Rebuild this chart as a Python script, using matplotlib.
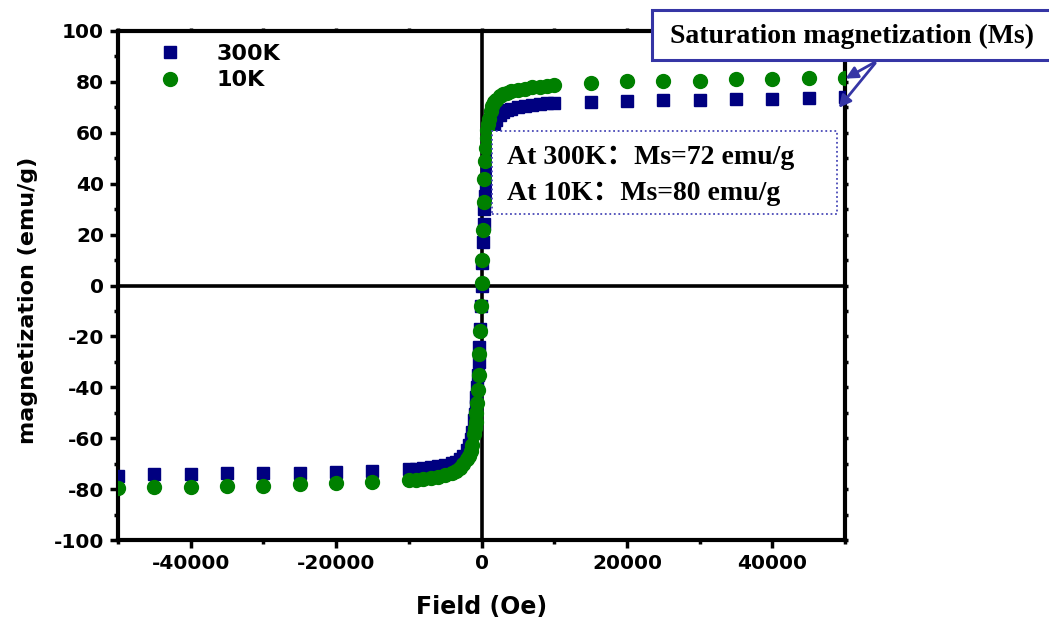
import matplotlib
matplotlib.use("Agg")
import matplotlib.pyplot as plt
from matplotlib.patches import Rectangle, FancyArrowPatch
from matplotlib.ticker import MultipleLocator

plt.rcParams["axes.unicode_minus"] = False

# field grid (Oe), shared by both temperatures
field = [-50000, -45000, -40000, -35000, -30000, -25000, -20000, -15000,
         -10000, -9000, -8000, -7000, -6000, -5000, -4000, -3500, -3000, -2500,
         -2000, -1750, -1500, -1250, -1000, -900, -800, -700, -600, -500, -400,
         -300, -200, -100, 0,
         100, 200, 300, 400, 500, 600, 700, 800, 900, 1000, 1250, 1500, 1750,
         2000, 2500, 3000, 3500, 4000, 5000, 6000, 7000, 8000, 9000, 10000,
         15000, 20000, 25000, 30000, 35000, 40000, 45000, 50000]

m_300k = [-74.7, -74.1, -74.0, -73.7, -73.6, -73.5, -73.1, -72.7,
          -72.2, -72.0, -71.7, -71.4, -71.0, -70.6, -69.9, -69.3, -68.3, -66.8,
          -64.5, -62.8, -60.5, -57.5, -53.0, -50.5, -47.5, -44.0, -40.0, -35.0, -30.0,
          -24.0, -17.0, -8.0, 0.0,
          9.0, 17.0, 24.0, 30.0, 35.0, 40.0, 44.0, 48.0, 51.0, 54.0, 58.5, 61.5, 63.5,
          65.0, 66.8, 68.0, 68.8, 69.4, 70.2, 70.7, 71.1, 71.4, 71.7, 71.9,
          72.1, 72.4, 72.7, 72.8, 73.1, 73.4, 73.7, 74.0]

m_10k = [-79.6, -79.2, -79.2, -78.8, -78.8, -77.9, -77.5, -77.1,
         -76.6, -76.3, -75.9, -75.5, -75.1, -74.5, -73.5, -72.8, -71.8, -70.3,
         -68.2, -66.8, -65.0, -62.5, -58.5, -56.0, -53.5, -50.0, -46.0, -41.0, -35.0,
         -27.0, -18.0, -8.0, 1.0,
         10.0, 22.0, 33.0, 42.0, 49.0, 54.0, 58.0, 61.0, 63.5, 65.5, 68.5, 70.5, 72.0,
         73.0, 74.3, 75.2, 75.8, 76.3, 76.9, 77.4, 77.8, 78.1, 78.4, 78.6,
         79.4, 80.2, 80.5, 80.5, 81.2, 81.3, 81.4, 81.7]

x_ticks = [-40000, -20000, 0, 20000, 40000]
y_ticks = [-100, -80, -60, -40, -20, 0, 20, 40, 60, 80, 100]

W, H = 1049, 625
SANS = "DejaVu Sans"
SERIF = ["Liberation Serif", "Noto Sans CJK SC"]
BOX_BLUE = "#3535a5"


def fpos(px, py):
    """image pixel (top-left origin) -> figure fraction"""
    return px / W, 1 - py / H


fig = plt.figure(figsize=(W / 100, H / 100), dpi=100)
ax = fig.add_axes([118 / W, 1 - 540 / H, 727 / W, 509 / H])

ax.axhline(0, color="black", lw=2.6, zorder=1)
ax.axvline(0, color="black", lw=2.6, zorder=1)

ax.plot(field, m_300k, "s", color="#000080", ms=8.5, mec="#000080", label="300K", zorder=3)
ax.plot(field, m_10k, "o", color="#008000", ms=10, mec="#008000", label="10K", zorder=4)

ax.set_xlim(-50000, 50000)
ax.set_ylim(-100, 100)
ax.set_xticks(x_ticks)
ax.set_yticks(y_ticks)
ax.xaxis.set_minor_locator(MultipleLocator(10000))
ax.yaxis.set_minor_locator(MultipleLocator(10))

for sp in ax.spines.values():
    sp.set_linewidth(3)

ax.tick_params(which="major", direction="out", length=6, width=2.5, labelsize=14.5, pad=4)
ax.tick_params(which="minor", direction="out", length=3, width=2.5)
ax.tick_params(which="both", top=True, right=True)
# top/right ticks are tiny dots in the original
for t in ax.xaxis.get_major_ticks() + ax.xaxis.get_minor_ticks():
    t.tick2line.set_markersize(2)
for t in ax.yaxis.get_major_ticks() + ax.yaxis.get_minor_ticks():
    t.tick2line.set_markersize(2)

for lab in ax.get_xticklabels() + ax.get_yticklabels():
    lab.set_fontfamily(SANS)
    lab.set_fontweight("bold")

ax.set_xlabel("Field (Oe)", fontsize=17, fontweight="bold", family=SANS, labelpad=16)
ax.set_ylabel("magnetization (emu/g)", fontsize=16, fontweight="bold", family=SANS)
ax.yaxis.set_label_coords(-0.110, 0.47)

leg = ax.legend(loc="upper left", bbox_to_anchor=(0.056, 0.975), frameon=False,
                prop={"family": SANS, "weight": "bold", "size": 16},
                handlelength=1.0, handletextpad=1.6, labelspacing=0.3,
                borderpad=0, borderaxespad=0)

# note box with Ms values
x0, y0 = fpos(492, 214)
x1, y1 = fpos(837, 131)
fig.add_artist(Rectangle((x0, y0), x1 - x0, y1 - y0, transform=fig.transFigure,
                         facecolor="white", edgecolor="#4a4ab8", lw=1.3,
                         linestyle=(0, (1, 1.5)), zorder=5))
tx, ty = fpos(507, 157)
fig.text(tx, ty, "At 300K：Ms=72 emu/g", family=SERIF, fontsize=20,
         fontweight="bold", va="center", ha="left", zorder=6)
tx, ty = fpos(507, 194)
fig.text(tx, ty, "At 10K：Ms=80 emu/g", family=SERIF, fontsize=20,
         fontweight="bold", va="center", ha="left", zorder=6)

# title callout box
x0, y0 = fpos(652, 60)
x1, y1 = fpos(1060, 10)
fig.add_artist(Rectangle((x0, y0), x1 - x0, y1 - y0, transform=fig.transFigure,
                         facecolor="white", edgecolor=BOX_BLUE, lw=2.2, zorder=5,
                         clip_on=False))
tx, ty = fpos(670, 36)
fig.text(tx, ty, "Saturation magnetization (Ms)", family=SERIF, fontsize=20,
         fontweight="bold", va="center", ha="left", zorder=6)

# arrows pointing to the saturated tails
start = fpos(877, 61)
for tip in [fpos(843, 80), fpos(837, 110)]:
    fig.add_artist(FancyArrowPatch(start, tip, transform=fig.transFigure,
                                   arrowstyle="-|>", mutation_scale=18,
                                   color=BOX_BLUE, lw=2, zorder=7))

fig.savefig("out.png", dpi=100)
